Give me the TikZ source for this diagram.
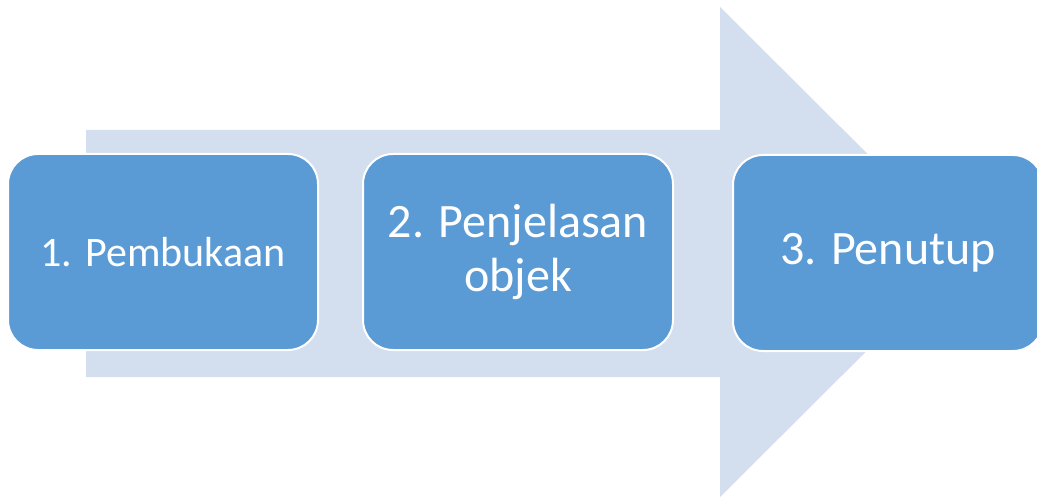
\documentclass[tikz,border=0pt]{standalone}
\usepackage{fontspec}
\setmainfont{Carlito}
\definecolor{arrowfill}{HTML}{D3DEEF}
\definecolor{stagefill}{HTML}{5B9BD5}
\begin{document}
\begin{tikzpicture}[x=1pt,y=-1pt,
    stage/.style={draw=white,line width=2pt,fill=stagefill,text=white,
      rounded corners=30pt,minimum width=310pt,minimum height=196pt,
      align=center,inner sep=0pt}]
      \useasboundingbox (0,0) rectangle (1037,497);
      \fill[arrowfill] (86,130) -- (720,130) -- (720,7) -- (966,252)
        -- (720,497) -- (720,377) -- (86,377) -- cycle;
      \draw
        (163,252) node[stage,font=\fontsize{42}{46}\selectfont] (b1){1. Pembukaan}
        (518,252) node[stage,font=\fontsize{48}{54}\selectfont] (b2){2. Penjelasan\\objek}
        (888,253) node[stage,font=\fontsize{48}{52}\selectfont] (b3){3. Penutup\vphantom{P}};
    \end{tikzpicture}
\end{document}
